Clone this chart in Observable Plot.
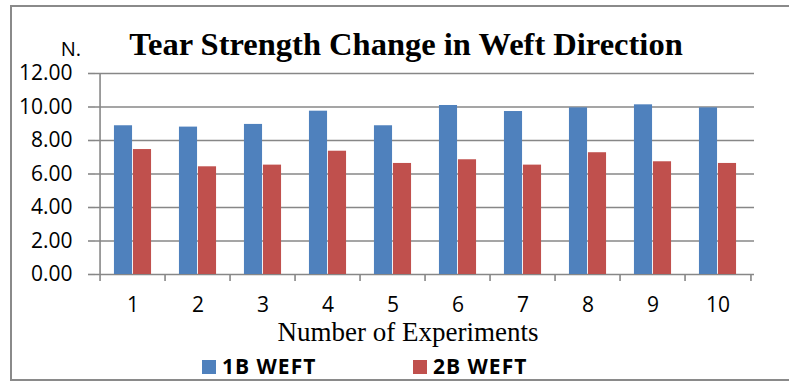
<!DOCTYPE html>
<html><head><meta charset="utf-8">
<script src="https://cdn.jsdelivr.net/npm/d3@7"></script>
<script src="https://cdn.jsdelivr.net/npm/@observablehq/plot@0.6"></script>
<style>
body{margin:0;background:#fff}
#wrap{position:relative;width:789px;height:382px;overflow:hidden;background:#fff}
#chart{position:absolute;left:0;top:0}
#over{position:absolute;left:0;top:0;pointer-events:none}
</style></head><body>
<div id="wrap"><div id="chart"></div><svg id="over" width="789" height="382"></svg></div>
<script>
const experiments = ["1","2","3","4","5","6","7","8","9","10"];
const series = ["1B WEFT", "2B WEFT"];
const values1B = [8.88, 8.80, 8.96, 9.75, 8.88, 10.09, 9.73, 9.95, 10.13, 9.95];
const values2B = [7.46, 6.43, 6.53, 7.36, 6.63, 6.85, 6.53, 7.27, 6.73, 6.63];
const yTicks = [0, 2, 4, 6, 8, 10, 12];
const colors = ["#4F81BD", "#C0504D"];
const title = "Tear Strength Change in Weft Direction";
const xTitle = "Number of Experiments";
const yUnit = "N.";

const rows = experiments.flatMap((e, i) => [
  {e, s: series[0], v: values1B[i]},
  {e, s: series[1], v: values2B[i]}
]);

const W = 789, mL = 95, mR = 35;
const half = (W - mL - mR) / experiments.length / 2;
const barW = 19;
const gridC = "#878787";

const plot = Plot.plot({
  width: W, height: 320,
  marginLeft: mL, marginRight: mR, marginTop: 73, marginBottom: 46,
  style: {fontFamily: "'Open Sans', sans-serif", fontSize: "21px", color: "#000", background: "transparent"},
  x: {domain: experiments, padding: 0, label: null},
  y: {domain: [0, 12], label: null},
  color: {domain: series, range: colors},
  marks: [
    Plot.ruleY(yTicks, {stroke: gridC, strokeWidth: 1.6}),
    Plot.ruleX([experiments[0]], {dx: -half, y1: 0, y2: 12, stroke: gridC, strokeWidth: 1.6}),
    Plot.barY(rows.filter(d => d.s === series[0]), {x: "e", y: "v", fill: "s", insetLeft: half - barW, insetRight: half}),
    Plot.barY(rows.filter(d => d.s === series[1]), {x: "e", y: "v", fill: "s", insetLeft: half, insetRight: half - barW}),
    Plot.axisY(yTicks, {tickFormat: d3.format(".2f"), tickSize: 7, tickPadding: 16, stroke: gridC, strokeWidth: 1.6, label: null}),
    Plot.axisX(experiments, {tickFormat: () => "", dx: -half, tickSize: 7, stroke: gridC, strokeWidth: 1.6, label: null}),
    Plot.axisX([experiments[experiments.length - 1]], {tickFormat: () => "", dx: half, tickSize: 7, stroke: gridC, strokeWidth: 1.6, label: null}),
    Plot.axisX(experiments, {tickSize: 0, tickPadding: 23, label: null})
  ]
});
document.getElementById("chart").appendChild(plot);

const o = d3.select("#over");
o.append("path").attr("d", "M800,6H11V380H800").attr("fill", "none").attr("stroke", "#8a8a8a").attr("stroke-width", 2);
o.append("text").text(title).attr("x", 406).attr("y", 55).attr("text-anchor", "middle")
  .attr("font-family", "'Liberation Serif', serif").attr("font-weight", "bold").attr("font-size", 32.5);
o.append("text").text(yUnit).attr("x", 81).attr("y", 56).attr("text-anchor", "end")
  .attr("font-family", "'Open Sans', sans-serif").attr("font-size", 20);
o.append("text").text(xTitle).attr("x", 408).attr("y", 341).attr("text-anchor", "middle")
  .attr("font-family", "'Liberation Serif', serif").attr("font-size", 27);
const legX = [202, 413];
series.forEach((s, i) => {
  o.append("rect").attr("x", legX[i]).attr("y", 360).attr("width", 14).attr("height", 14).attr("fill", colors[i]);
  o.append("text").text(s).attr("x", legX[i] + 20).attr("y", 374)
    .attr("font-family", "'Open Sans', sans-serif").attr("font-weight", "bold").attr("font-size", 21).attr("letter-spacing", 1);
});
</script>
</body></html>
